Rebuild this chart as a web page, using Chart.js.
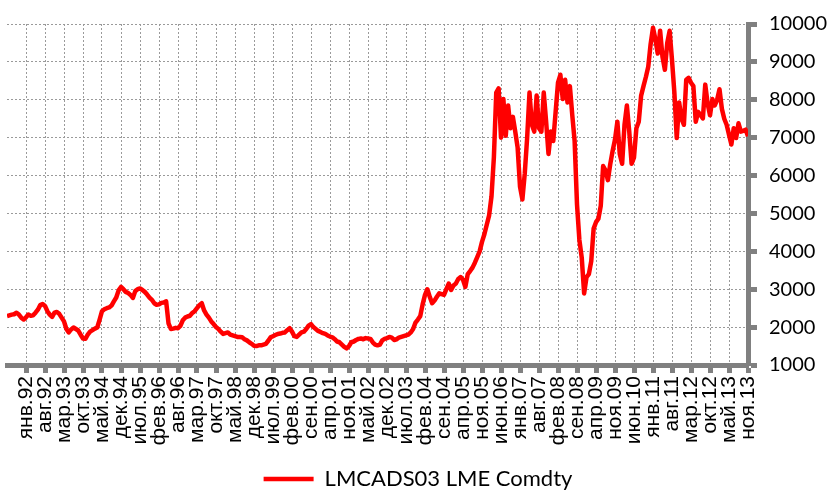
<!DOCTYPE html>
<html lang="ru">
<head>
<meta charset="UTF-8">
<title>LMCADS03 LME Comdty</title>
<script src="https://cdn.jsdelivr.net/npm/chart.js"></script>
<style>
  html, body { margin: 0; padding: 0; background: #fff; }
</style>
</head>
<body>
<canvas id="copperChart" width="829" height="494"></canvas>
<script>
  // one label every 8 points, the first one after 8 lead-in points
  const leadPoints = 8;
  const pointsPerTick = 8;

  const tickLabels = [
    'янв.92', 'авг.92', 'мар.93', 'окт.93', 'май.94', 'дек.94', 'июл.95', 'фев.96',
    'авг.96', 'мар.97', 'окт.97', 'май.98', 'дек.98', 'июл.99', 'фев.00', 'сен.00',
    'апр.01', 'ноя.01', 'май.02', 'дек.02', 'июл.03', 'фев.04', 'сен.04', 'апр.05',
    'ноя.05', 'июн.06', 'янв.07', 'авг.07', 'фев.08', 'сен.08', 'апр.09', 'ноя.09',
    'июн.10', 'янв.11', 'авг.11', 'мар.12', 'окт.12', 'май.13', 'ноя.13'
  ];

  // LME copper 3M, USD/t; each row starts at a labelled point
  const copperPrice = [
    2290, 2310, 2330, 2340, 2380, 2330, 2250, 2200,
    2260, 2330, 2300, 2310, 2380, 2460, 2580, 2610, // янв.92
    2560, 2420, 2330, 2270, 2380, 2400, 2350, 2250, // авг.92
    2150, 1950, 1860, 1940, 1990, 1950, 1910, 1800, // мар.93
    1700, 1690, 1800, 1880, 1920, 1960, 1990, 2200, // окт.93
    2420, 2470, 2500, 2520, 2570, 2680, 2780, 2970, // май.94
    3060, 3000, 2930, 2900, 2850, 2770, 2950, 3000, // дек.94
    3020, 2980, 2930, 2860, 2780, 2720, 2630, 2590, // июл.95
    2600, 2640, 2650, 2680, 2100, 1950, 1960, 1980, // фев.96
    1970, 2030, 2180, 2250, 2280, 2300, 2370, 2420, // авг.96
    2500, 2580, 2630, 2440, 2330, 2250, 2150, 2080, // мар.97
    2000, 1950, 1880, 1820, 1840, 1860, 1800, 1780, // окт.97
    1760, 1740, 1740, 1730, 1680, 1650, 1600, 1560, // май.98
    1510, 1500, 1520, 1520, 1540, 1560, 1640, 1730, // дек.98
    1760, 1790, 1820, 1830, 1850, 1860, 1920, 1970, // июл.99
    1880, 1760, 1740, 1800, 1860, 1880, 1950, 2040, // фев.00
    2080, 2000, 1950, 1900, 1870, 1840, 1820, 1780, // сен.00
    1750, 1730, 1680, 1620, 1600, 1540, 1480, 1440, // апр.01
    1500, 1600, 1620, 1660, 1690, 1700, 1680, 1710, // ноя.01
    1700, 1690, 1600, 1540, 1520, 1540, 1650, 1690, // май.02
    1710, 1740, 1720, 1660, 1680, 1720, 1740, 1760, // дек.02
    1780, 1800, 1860, 1950, 2120, 2200, 2290, 2600, // июл.03
    2850, 3000, 2800, 2630, 2700, 2800, 2890, 2870, // фев.04
    2850, 3000, 3150, 2980, 3100, 3150, 3270, 3320, // сен.04
    3250, 3060, 3400, 3480, 3570, 3700, 3850, 4000, // апр.05
    4250, 4450, 4700, 4950, 5450, 6480, 8190, 8300, // ноя.05
    7000, 8020, 7050, 7850, 7250, 7550, 7160, 6740, // июн.06
    5710, 5370, 6050, 6990, 8190, 7340, 7160, 8110, // янв.07
    7250, 7160, 8190, 7420, 6570, 7160, 6910, 7680, // авг.07
    8450, 8660, 8020, 8530, 7930, 8360, 7600, 6910, // фев.08
    5240, 4300, 3830, 2890, 3320, 3400, 3740, 4600, // сен.08
    4770, 4860, 5200, 6250, 6140, 5880, 6300, 6650, // апр.09
    6950, 7420, 6570, 6310, 7340, 7850, 7160, 6310, // ноя.09
    6480, 7250, 7420, 8110, 8360, 8600, 8870, 9470, // июн.10
    9900, 9600, 9220, 9820, 9130, 8790, 9500, 9820, // янв.11
    9050, 8190, 6990, 7930, 7500, 7340, 8530, 8580, // авг.11
    8450, 8360, 7420, 7680, 7600, 7510, 8400, 7900, // мар.12
    7590, 8020, 7850, 8000, 8280, 7760, 7500, 7340, // окт.12
    7080, 6820, 7250, 6990, 7380, 7160, 7180, 7210, // май.13
    7040                                            // ноя.13
  ];

  const yTicks = [1000, 2000, 3000, 4000, 5000, 6000, 7000, 8000, 9000, 10000];

  const axisGrey = '#808080';
  const gridGrey = '#9a9a9a';

  const points = copperPrice.map((v, i) => ({ x: i, y: v }));

  const ctx = document.getElementById('copperChart').getContext('2d');
  new Chart(ctx, {
    type: 'line',
    data: {
      datasets: [{
        label: 'LMCADS03 LME Comdty',
        data: points,
        borderColor: '#ff0000',
        backgroundColor: '#ff0000',
        borderWidth: 4.5,
        borderJoinStyle: 'round',
        pointRadius: 0,
        tension: 0
      }]
    },
    options: {
      responsive: false,
      animation: false,
      layout: { padding: { left: 7, top: 17, right: 0, bottom: -6 } },
      plugins: {
        tooltip: { enabled: false },
        legend: {
          position: 'bottom',
          labels: {
            usePointStyle: true,
            pointStyle: 'line',
            pointStyleWidth: 50,
            color: '#000',
            padding: 4,
            font: { family: 'Lato', size: 22 }
          }
        }
      },
      scales: {
        x: {
          type: 'linear',
          min: 0,
          max: copperPrice.length - 1,
          afterBuildTicks: (scale) => {
            scale.ticks = tickLabels.map((_, k) => ({ value: leadPoints + k * pointsPerTick }));
          },
          afterFit: (scale) => { scale.height = 99; },
          ticks: {
            autoSkip: false,
            minRotation: 90,
            maxRotation: 90,
            padding: 3,
            color: '#000',
            font: { family: 'Liberation Sans', size: 21 },
            callback: (value, index) => tickLabels[index]
          },
          grid: {
            color: gridGrey,
            lineWidth: 1,
            tickLength: 8,
            tickWidth: 5,
            tickColor: axisGrey
          },
          border: { color: axisGrey, width: 5, dash: [2, 2] }
        },
        y: {
          position: 'right',
          min: 1000,
          max: 10000,
          afterBuildTicks: (scale) => {
            scale.ticks = yTicks.map(v => ({ value: v }));
          },
          afterFit: (scale) => { scale.width = 81; },
          ticks: {
            padding: 12,
            color: '#000',
            font: { family: 'Lato', size: 20 },
            callback: (value) => String(value)
          },
          grid: {
            color: gridGrey,
            lineWidth: 1,
            tickLength: 9,
            tickWidth: 5,
            tickColor: axisGrey
          },
          border: { color: axisGrey, width: 5, dash: [2, 2] }
        }
      }
    }
  });
</script>
</body>
</html>
